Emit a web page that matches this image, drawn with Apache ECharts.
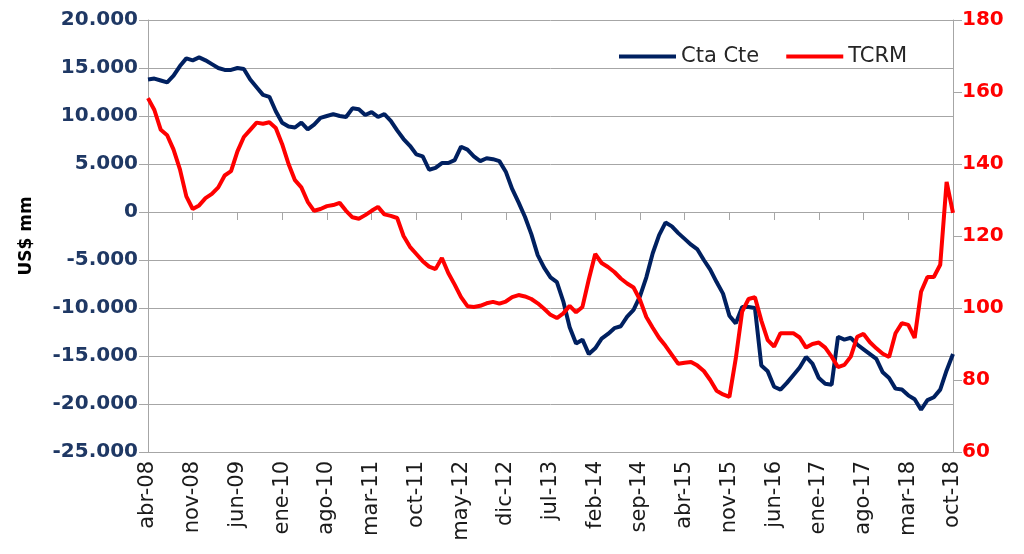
<!DOCTYPE html>
<html>
<head>
<meta charset="UTF-8">
<title>Cta Cte - TCRM</title>
<script src="https://cdn.jsdelivr.net/npm/echarts@6/dist/echarts.min.js"></script>
</head>
<body style="margin:0">
<div id='main' style="width:1024px;height:554px"></div>
<script type="text/javascript">
// meses abr-08 .. oct-18
var meses=['ene','feb','mar','abr','may','jun','jul','ago','sep','oct','nov','dic'];
var categorias=[];
for(var a=8;a<=18;a++){
	for(var m=0;m<12;m++){
		if(a==8&&m<3) continue;
		if(a==18&&m>9) continue;
		categorias.push(meses[m]+'-'+(a<10?'0'+a:a));
	}
}

// cuenta corriente, US$ mm
var ctaCte=[
	13800,13900,13700,13500,14200,15200,16000,15800,16100,15800,
	15400,15000,14800,14800,15000,14900,13800,13000,12200,12000,
	10500,9300,8900,8800,9300,8600,9100,9800,10000,10200,
	10000,9900,10800,10700,10100,10400,9900,10200,9500,8500,
	7600,6900,6000,5800,4400,4600,5100,5100,5400,6800,
	6500,5800,5300,5600,5500,5300,4200,2400,1000,-500,
	-2300,-4500,-5800,-6800,-7300,-9300,-12000,-13700,-13300,-14800,
	-14200,-13200,-12700,-12100,-11900,-10900,-10200,-8800,-6800,-4300,
	-2400,-1100,-1500,-2200,-2800,-3400,-3900,-5000,-6000,-7300,
	-8500,-10800,-11600,-9900,-9900,-10000,-16000,-16600,-18200,-18500,
	-17800,-17000,-16200,-15100,-15800,-17300,-17900,-18000,-13000,-13300,
	-13100,-13800,-14300,-14800,-15300,-16700,-17300,-18400,-18500,-19100,
	-19500,-20600,-19600,-19300,-18500,-16500,-14800
];

// tipo de cambio real multilateral
var tcrm=[
	158.3,155,149.5,148,144,138.5,131,127.5,128.5,130.5,
	131.7,133.5,136.8,138,143.5,147.5,149.5,151.5,151.2,151.6,
	150,145.5,140,135.5,133.5,129.5,127,127.5,128.3,128.6,
	129.2,127,125.2,124.8,125.8,127,128.1,126,125.6,125,
	120,117,115,113,111.5,110.8,113.9,109.7,106.5,103,
	100.5,100.3,100.6,101.3,101.7,101.2,101.8,103,103.6,103.2,
	102.5,101.3,99.8,98.1,97.2,98.5,100.6,98.8,100.3,108,
	115,112.5,111.4,110,108.2,106.8,105.7,102.3,97.5,94.5,
	91.7,89.5,87,84.5,84.8,85,84,82.5,80,77,
	76,75.3,86,99,102.5,103,96.5,91.1,89.3,93,
	93,93,91.8,89,90,90.4,89,86.5,83.6,84.2,
	86.5,92,92.8,90.5,88.8,87.3,86.4,93,95.8,95.3,
	91.7,104.5,108.6,108.6,112,135,126.4
];

function miles(v){
	var s=Math.abs(v).toString().replace(/\B(?=(\d{3})+(?!\d))/g,'.');
	return (v<0?'-':'')+s;
}

var gris='#a6a6a6';
var myChart=echarts.init(document.getElementById('main'));
var option={
	animation:false,
	backgroundColor:'#fff',
	grid:{left:148,right:71,top:20,bottom:102},
	legend:{
		left:614,top:41,
		icon:'rect',itemWidth:57,itemHeight:4,itemGap:27,
		textStyle:{fontFamily:'DejaVu Sans',fontSize:21,color:'#262626'},
		data:['Cta Cte','TCRM']
	},
	xAxis:[{
		type:'category',
		data:categorias,
		boundaryGap:false,
		position:'bottom',
		axisLine:{onZero:false,lineStyle:{color:gris,width:1}},
		axisTick:{show:false},
		axisLabel:{interval:6,rotate:90,margin:9,fontFamily:'DejaVu Sans',fontSize:21,color:'#1a1a1a'},
		splitLine:{show:false}
	},{
		type:'category',
		data:categorias,
		boundaryGap:false,
		position:'bottom',
		axisLine:{onZero:true,onZeroAxisIndex:0,lineStyle:{color:gris,width:1}},
		axisTick:{show:true,interval:6,length:8,lineStyle:{color:gris}},
		axisLabel:{show:false},
		splitLine:{show:false}
	}],
	yAxis:[{
		type:'value',
		name:'US$ mm',
		nameLocation:'middle',
		nameGap:113,
		nameTextStyle:{fontFamily:'DejaVu Sans',fontWeight:'bold',fontSize:17,color:'#000'},
		min:-25000,max:20000,interval:5000,
		position:'left',
		axisLine:{show:true,onZero:false,lineStyle:{color:gris}},
		axisTick:{show:true,length:9,lineStyle:{color:gris}},
		axisLabel:{margin:10,fontFamily:'DejaVu Sans',fontWeight:'bold',fontSize:20,color:'#1f3864',formatter:miles},
		splitLine:{lineStyle:{color:gris,width:1}}
	},{
		type:'value',
		min:60,max:180,interval:20,
		position:'right',
		axisLine:{show:true,onZero:false,lineStyle:{color:gris}},
		axisTick:{show:true,length:9,lineStyle:{color:gris}},
		axisLabel:{margin:9,fontFamily:'DejaVu Sans',fontWeight:'bold',fontSize:20,color:'#ff0000'},
		splitLine:{show:false}
	}],
	series:[{
		name:'Cta Cte',
		type:'line',
		yAxisIndex:0,
		data:ctaCte,
		symbol:'none',
		itemStyle:{color:'#002060'},
		lineStyle:{color:'#002060',width:4}
	},{
		name:'TCRM',
		type:'line',
		yAxisIndex:1,
		data:tcrm,
		symbol:'none',
		itemStyle:{color:'#ff0000'},
		lineStyle:{color:'#ff0000',width:4}
	}]
};
myChart.setOption(option);
</script>
</body>
</html>
